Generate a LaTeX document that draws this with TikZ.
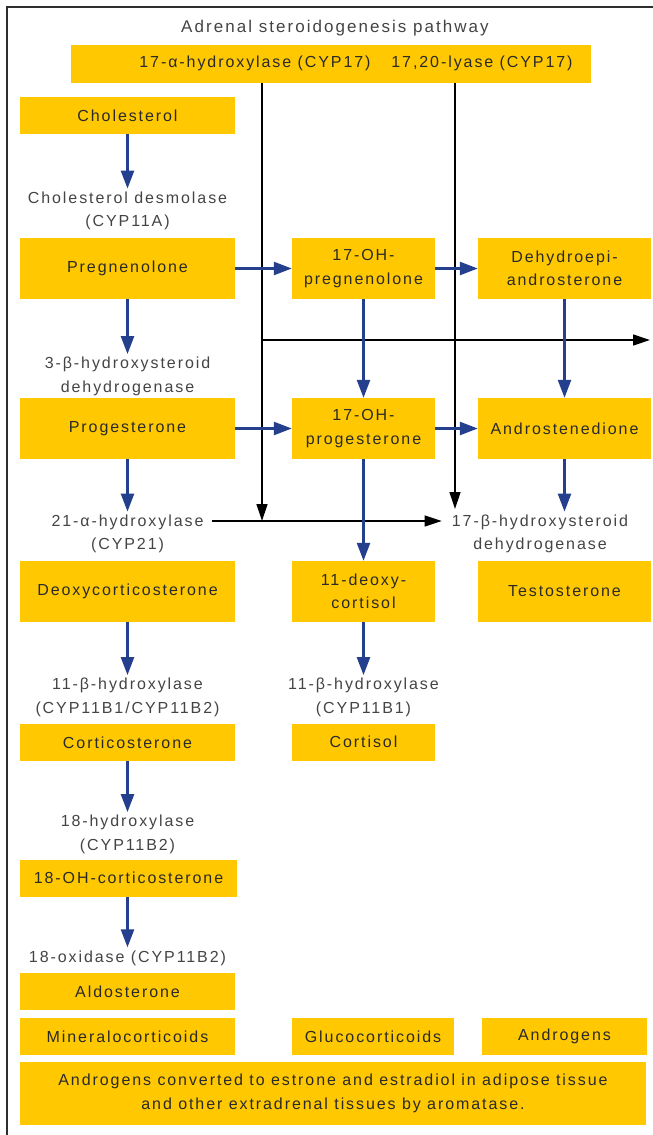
\documentclass[tikz,border=0pt]{standalone}
\usepackage{fontspec}
\setmainfont{Liberation Sans}[LetterSpace=12]
\usetikzlibrary{arrows.meta,positioning}
\definecolor{amber}{HTML}{FFC800}
\definecolor{boxtext}{HTML}{2A2A2A}
\definecolor{labeltext}{HTML}{444444}
\definecolor{pathblue}{HTML}{233F8E}
\definecolor{framegray}{HTML}{2E2E2E}
\tikzset{
  hormbox/.style={
    fill=amber,
    draw=none,
    inner sep=0pt,
    align=center,
    text=boxtext,
    font=\fontsize{16}{23.5}\selectfont
  },
  leftbox/.style={hormbox,minimum width=215pt},
  midbox/.style={hormbox,minimum width=143pt},
  rightbox/.style={hormbox,minimum width=173pt},
  lowbox/.style={minimum height=37pt},
  tallbox/.style={minimum height=61pt},
  enzlabel/.style={
    inner sep=3pt,
    align=center,
    text=labeltext,
    font=\fontsize{16}{23.5}\selectfont
  },
  pathar/.style={-{Triangle[length=18pt,width=13pt]},line width=2.5pt,draw=pathblue},
  lyasear/.style={-{Triangle[length=17pt,width=11pt]},line width=1.3pt,draw=black}
}
\begin{document}
\begin{tikzpicture}[x=1pt,y=-1pt]
  \useasboundingbox (0,0) rectangle (653,1135);
  \draw[framegray,line width=1.5pt] (7,1135) -- (7,7) -- (653,7);

  \node[enzlabel,font=\fontsize{17}{24}\selectfont] (title) at (335,28) {Adrenal steroidogenesis pathway};
  \node[hormbox,minimum width=520pt,minimum height=38pt] (cypbox) at (331,64) {};
  \node[hormbox] (hydtxt) at (255,63) {17-α-hydroxylase (CYP17)};
  \node[hormbox] (lyasetxt) at (482,63) {17,20-lyase (CYP17)};

  % mineralocorticoid branch
  \node[leftbox,lowbox] (chol) at (127.5,115.5) {Cholesterol};
  \node[enzlabel] (desm) at (127.5,211) {Cholesterol desmolase\\(CYP11A)};
  \node[leftbox,tallbox] (preg) at (127.5,268.5) {Pregnenolone};
  \node[enzlabel] (hsd3) at (127.5,376.5) {3-β-hydroxysteroid\\dehydrogenase};
  \node[leftbox,tallbox] (prog) at (127.5,428.5) {Progesterone};
  \node[enzlabel] (c21) at (127.5,534) {21-α-hydroxylase\\(CYP21)};
  \node[leftbox,tallbox] (doc) at (127.5,591.5) {Deoxycorticosterone};
  \node[enzlabel] (c11) at (127.5,697.5) {11-β-hydroxylase\\(CYP11B1/CYP11B2)};
  \node[leftbox,lowbox] (cort) at (127.5,742.5) {Corticosterone};
  \node[enzlabel] (c18) at (127.5,834.5) {18-hydroxylase\\(CYP11B2)};
  \node[leftbox,lowbox,minimum width=217pt] (ohcort) at (128.5,878) {18-OH-corticosterone};
  \node[enzlabel] (oxid) at (127.5,958) {18-oxidase (CYP11B2)};
  \node[leftbox,lowbox] (aldo) at (127.5,991.5) {Aldosterone};
  \node[leftbox,lowbox] (mineral) at (127.5,1036.5) {Mineralocorticoids};

  % glucocorticoid branch
  \node[midbox,tallbox] (ohpreg) at (363.5,268.5) {17-OH-\\pregnenolone};
  \node[midbox,tallbox] (ohprog) at (363.5,428.5) {17-OH-\\progesterone};
  \node[midbox,tallbox] (deoxy) at (363.5,591.5) {11-deoxy-\\cortisol};
  \node[enzlabel] (c11b1) at (363.5,697.5) {11-β-hydroxylase\\(CYP11B1)};
  \node[midbox,lowbox] (cortisol) at (363.5,742) {Cortisol};
  \node[hormbox,lowbox,minimum width=162pt] (gluco) at (373,1036.5) {Glucocorticoids};

  % androgen branch
  \node[rightbox,tallbox] (dhea) at (564.5,268.5) {Dehydroepi-\\androsterone};
  \node[rightbox,tallbox] (andro) at (564.5,428.5) {Androstenedione};
  \node[enzlabel] (hsd17) at (540,534) {17-β-hydroxysteroid\\dehydrogenase};
  \node[rightbox,tallbox] (testo) at (564.5,591.5) {Testosterone};
  \node[hormbox,lowbox,minimum width=165pt] (androg) at (564.5,1036.5) {Androgens};

  \node[hormbox,minimum width=626pt,minimum height=63pt] (aroma) at (333,1093.5) {Androgens converted to estrone and estradiol in adipose tissue\\and other extradrenal tissues by aromatase.};

  \coordinate (hydB) at (262,521);
  \coordinate (lyaseB) at (455,509);
  \coordinate (lyaseL) at (262,340);
  \coordinate (lyaseR) at (650,340);

  \draw[lyasear] (cypbox.south -| hydB) -- (hydB);
  \draw[lyasear] (cypbox.south -| lyaseB) -- (lyaseB);
  \draw[lyasear] (lyaseL) -- (lyaseR);
  \draw[lyasear] ([xshift=5pt]c21.east |- hydB) -- ([xshift=-7pt]hsd17.west |- hydB);

  \draw[pathar] (chol) -- (desm);
  \draw[pathar] (preg) -- (hsd3);
  \draw[pathar] (prog) -- (c21);
  \draw[pathar] (doc) -- (c11);
  \draw[pathar] (cort) -- (c18);
  \draw[pathar] (ohcort.south -| oxid) -- (oxid);
  \draw[pathar] (preg) -- (ohpreg);
  \draw[pathar] (prog) -- (ohprog);
  \draw[pathar] (ohpreg) -- (dhea);
  \draw[pathar] (ohprog) -- (andro);
  \draw[pathar] (ohpreg) -- (ohprog);
  \draw[pathar] (ohprog) -- (deoxy);
  \draw[pathar] (deoxy) -- (c11b1);
  \draw[pathar] (dhea) -- (andro);
  \draw[pathar] (andro.south) -- (andro.south |- hsd17.north);
\end{tikzpicture}
\end{document}
